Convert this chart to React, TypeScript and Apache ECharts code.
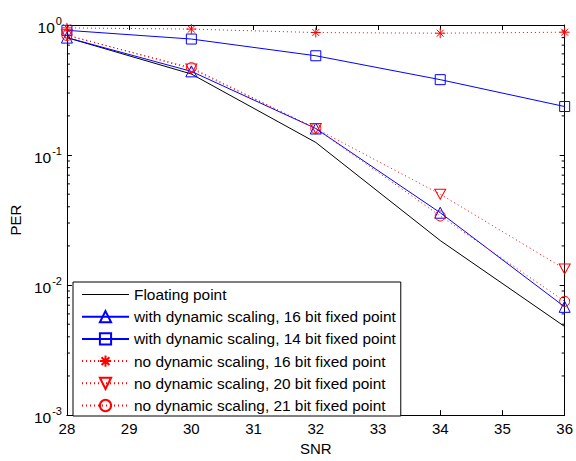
import React, { useEffect, useRef } from "react";
import * as echarts from "echarts";

const snr = [28, 30, 32, 34, 36];
const floatingPoint = [0.8, 0.42, 0.125, 0.022, 0.0048];
const dyn16 = [0.8, 0.44, 0.16, 0.036, 0.0068];
const dyn14 = [0.91, 0.78, 0.58, 0.38, 0.236];
const noDyn16 = [0.95, 0.93, 0.875, 0.865, 0.88];
const noDyn20 = [0.84, 0.46, 0.16, 0.05, 0.0133];
const noDyn21 = [0.83, 0.47, 0.16, 0.034, 0.0075];
const minorTickValues = [-3, -2, -1].flatMap((e) => [2, 3, 4, 5, 6, 7, 8, 9].map((m) => m * Math.pow(10, e)));

const names = [
  "Floating point",
  "with dynamic scaling, 16 bit fixed point",
  "with dynamic scaling, 14 bit fixed point",
  "no dynamic scaling, 16 bit fixed point",
  "no dynamic scaling, 20 bit fixed point",
  "no dynamic scaling, 21 bit fixed point",
];

const FONT = "'Liberation Sans', Arial, sans-serif";
const BLUE = "#0000ff";
const RED = "#ff0000";
const CLEAR = "rgba(255,255,255,0)";

const pairs = (ys: number[]) => snr.map((x, i) => [x, ys[i]]);

export default function App() {
  const ref = useRef<HTMLDivElement>(null);
  useEffect(() => {
    if (!ref.current) return;
    const chart = echarts.init(ref.current, null, { renderer: "svg" });
    const tickStyle = { inside: true, length: 5, lineStyle: { color: "#000", width: 1 } };
    const axisLine = { show: true, onZero: false, lineStyle: { color: "#000", width: 1 } };
    const labelStyle = { color: "#000", fontFamily: FONT, fontSize: 15 };
    const marker = (color: string) => ({ color: CLEAR, borderColor: color, borderWidth: 1 });
    chart.setOption({
      animation: false,
      backgroundColor: "#fff",
      grid: { left: 63, right: 6, top: 25, bottom: 39 },
      legend: {
        data: [
          { name: names[0], icon: "path://M0,0L47,0L47,1L0,1Z", itemStyle: { color: "#000" } },
          ...names.slice(1).map((n) => ({ name: n })),
        ],
        orient: "vertical",
        left: 73,
        top: 282,
        padding: [5, 5, 3, 8],
        itemWidth: 47,
        itemHeight: 14,
        itemGap: 7.2,
        borderColor: "#000",
        borderWidth: 1,
        backgroundColor: "#fff",
        textStyle: { color: "#000", fontFamily: FONT, fontSize: 15.4 },
        selectedMode: false,
      },
      xAxis: [
        {
          type: "value",
          min: 28,
          max: 36,
          interval: 1,
          name: "SNR",
          nameLocation: "middle",
          nameGap: 19,
          nameTextStyle: labelStyle,
          axisLine,
          axisTick: tickStyle,
          axisLabel: { ...labelStyle, margin: 6 },
          splitLine: { show: false },
        },
        {
          type: "value",
          position: "top",
          min: 28,
          max: 36,
          interval: 1,
          axisLine,
          axisTick: tickStyle,
          axisLabel: { show: false },
          splitLine: { show: false },
        },
      ],
      yAxis: [
        {
          type: "log",
          logBase: 10,
          min: 0.001,
          max: 1,
          name: "PER",
          nameLocation: "middle",
          nameGap: 38,
          nameTextStyle: labelStyle,
          axisLine,
          axisTick: tickStyle,
          axisLabel: {
            margin: 5,
            formatter: (v: number) => `{a|10}{b|${Math.round(Math.log10(v))}}`,
            rich: {
              a: { color: "#000", fontFamily: FONT, fontSize: 15.5, verticalAlign: "bottom", lineHeight: 20 },
              b: { color: "#000", fontFamily: FONT, fontSize: 11, verticalAlign: "top", lineHeight: 20, padding: [0, 0, 0, 1] },
            },
          },
          splitLine: { show: false },
        },
        {
          type: "log",
          logBase: 10,
          min: 0.001,
          max: 1,
          position: "right",
          axisLine,
          axisTick: tickStyle,
          axisLabel: { show: false },
          splitLine: { show: false },
        },
      ],
      series: [
        {
          name: names[0],
          type: "line",
          data: pairs(floatingPoint),
          symbol: "none",
          lineStyle: { color: "#000", width: 1 },
          itemStyle: { color: "#000" },
        },
        {
          name: names[1],
          type: "line",
          data: pairs(dyn16),
          symbol: "triangle",
          symbolSize: 11,
          lineStyle: { color: BLUE, width: 1 },
          itemStyle: marker(BLUE),
        },
        {
          name: names[2],
          type: "line",
          data: pairs(dyn14),
          symbol: "rect",
          symbolSize: 10,
          lineStyle: { color: BLUE, width: 1 },
          itemStyle: marker(BLUE),
        },
        {
          name: names[3],
          type: "line",
          data: pairs(noDyn16),
          symbol: "path://M5,0L5,10M0,5L10,5M1.5,1.5L8.5,8.5M1.5,8.5L8.5,1.5",
          symbolSize: 10,
          lineStyle: { color: RED, width: 1, type: [1, 3] },
          itemStyle: marker(RED),
        },
        {
          name: names[4],
          type: "line",
          data: pairs(noDyn20),
          symbol: "path://M0,0L10,0L5,9Z",
          symbolSize: [11, 10],
          lineStyle: { color: RED, width: 1, type: [1, 3] },
          itemStyle: marker(RED),
        },
        {
          name: names[5],
          type: "line",
          data: pairs(noDyn21),
          symbol: "circle",
          symbolSize: 10,
          lineStyle: { color: RED, width: 1, type: [1, 3] },
          itemStyle: marker(RED),
        },
        {
          name: "minorTicks",
          type: "custom",
          silent: true,
          data: minorTickValues.map((v) => [28, v]),
          encode: { x: 0, y: 1 },
          renderItem: (_params: any, api: any) => {
            const v = api.value(1);
            const l = api.coord([28, v]);
            const r = api.coord([36, v]);
            const st = { stroke: "#000", lineWidth: 1 };
            return {
              type: "group",
              children: [
                { type: "line", shape: { x1: l[0], y1: l[1], x2: l[0] + 3, y2: l[1] }, style: st },
                { type: "line", shape: { x1: r[0], y1: r[1], x2: r[0] - 3, y2: r[1] }, style: st },
              ],
            };
          },
        },
      ],
    });
    return () => chart.dispose();
  }, []);
  return <div ref={ref} style={{ position: "fixed", left: 0, top: 0, width: 576, height: 461 }} />;
}
